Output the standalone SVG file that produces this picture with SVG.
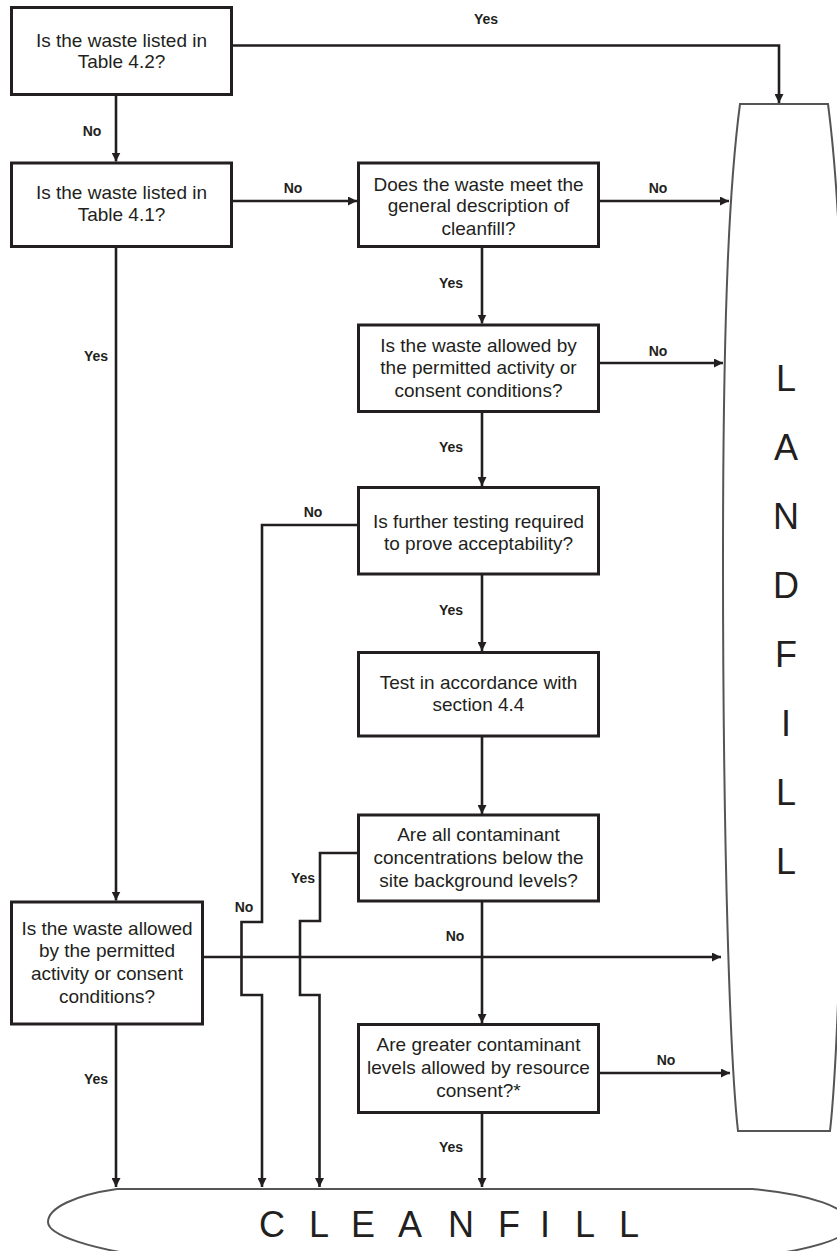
<svg xmlns="http://www.w3.org/2000/svg" width="837" height="1251" viewBox="0 0 837 1251">
<defs>
<style>
.box{fill:#fff;stroke:#231f20;stroke-width:3}
.t{font-family:"Liberation Sans",Arial,sans-serif;font-size:19px;fill:#231f20;text-anchor:middle}
.lbl{font-family:"Liberation Sans",Arial,sans-serif;font-size:14px;font-weight:bold;fill:#231f20;text-anchor:middle}
.big{font-family:"Liberation Sans",Arial,sans-serif;font-size:36px;fill:#231f20}
.c{fill:none;stroke:#231f20;stroke-width:2.6;marker-end:url(#ah)}
.term{fill:#fff;stroke:#555;stroke-width:2}
</style>
<marker id="ah" markerUnits="userSpaceOnUse" markerWidth="9" markerHeight="9" refX="9" refY="4.5" orient="auto">
<path d="M0,0 L9,4.5 L0,9 z" fill="#231f20"/>
</marker>
</defs>
<rect width="837" height="1251" fill="#fff"/>

<g id="landfill">
<path class="term" d="M740,104 L828,104 C838,180 845,300 845,560 C845,850 838,1060 830,1131 L738,1131 C730,1060 723,850 723,560 C723,300 730,180 740,104 Z"/>
<text class="big" text-anchor="middle"><tspan x="786" y="391">L</tspan><tspan x="786" y="460">A</tspan><tspan x="786" y="529">N</tspan><tspan x="786" y="598">D</tspan><tspan x="786" y="667">F</tspan><tspan x="786" y="736">I</tspan><tspan x="786" y="805">L</tspan><tspan x="786" y="874">L</tspan></text>
</g>

<g id="cleanfill">
<path class="term" d="M117,1189 L752,1189 C810,1194 850,1208 850,1224 C850,1240 805,1250 760,1256 C650,1272 250,1272 144,1256 C95,1249 48,1236 48,1222 C48,1208 75,1195 117,1189 Z"/>
<text class="big" x="259 309 351 398 448 498 540 575 619" y="1237">CLEANFILL</text>
</g>

<g id="connectors">
<path class="c" d="M231.5,45.5 H779 V103"/>
<path class="c" d="M116,94.5 V161.5"/>
<path class="c" d="M231.5,201 H357"/>
<path class="c" d="M598.5,201 H729"/>
<path class="c" d="M482,246.5 V323.5"/>
<path class="c" d="M598.5,363 H723"/>
<path class="c" d="M482,411.5 V486"/>
<path class="c" d="M358.5,525 H262 V922 H241.5 V995 H262 V1187"/>
<path class="c" d="M482,574 V651"/>
<path class="c" d="M482,736 V814"/>
<path class="c" d="M358.5,853 H320 V921 H300 V995 H319.5 V1187"/>
<path class="c" d="M482,901 V1023"/>
<path class="c" d="M202,957 H721"/>
<path class="c" d="M598.5,1073 H730"/>
<path class="c" d="M482,1112 V1187"/>
<path class="c" d="M116,246.5 V900.5"/>
<path class="c" d="M116,1024 V1187"/>
</g>

<g id="labels">
<text class="lbl" x="486" y="24">Yes</text>
<text class="lbl" x="92" y="136">No</text>
<text class="lbl" x="293" y="193">No</text>
<text class="lbl" x="658" y="193">No</text>
<text class="lbl" x="451" y="288">Yes</text>
<text class="lbl" x="658" y="356">No</text>
<text class="lbl" x="96" y="361">Yes</text>
<text class="lbl" x="451" y="452">Yes</text>
<text class="lbl" x="313" y="517">No</text>
<text class="lbl" x="451" y="615">Yes</text>
<text class="lbl" x="303" y="883">Yes</text>
<text class="lbl" x="244" y="912">No</text>
<text class="lbl" x="455" y="941">No</text>
<text class="lbl" x="666" y="1065">No</text>
<text class="lbl" x="96" y="1084">Yes</text>
<text class="lbl" x="451" y="1152">Yes</text>
</g>

<g id="n1">
<rect class="box" x="11.5" y="7.5" width="220" height="87"/>
<text class="t"><tspan x="121.5" y="47">Is the waste listed in</tspan><tspan x="121.5" y="68">Table 4.2?</tspan></text>
</g>
<g id="n2">
<rect class="box" x="11.5" y="163" width="220" height="83.5"/>
<text class="t"><tspan x="121.5" y="199">Is the waste listed in</tspan><tspan x="121.5" y="221">Table 4.1?</tspan></text>
</g>
<g id="n3">
<rect class="box" x="358.5" y="163" width="240" height="83.5"/>
<text class="t"><tspan x="478.5" y="191">Does the waste meet the</tspan><tspan x="478.5" y="212">general description of</tspan><tspan x="478.5" y="235">cleanfill?</tspan></text>
</g>
<g id="n4">
<rect class="box" x="358.5" y="325" width="240" height="86.5"/>
<text class="t"><tspan x="478.5" y="352">Is the waste allowed by</tspan><tspan x="478.5" y="374">the permitted activity or</tspan><tspan x="478.5" y="397">consent conditions?</tspan></text>
</g>
<g id="n5">
<rect class="box" x="358.5" y="487.5" width="240" height="86.5"/>
<text class="t"><tspan x="478.5" y="528">Is further testing required</tspan><tspan x="478.5" y="550">to prove acceptability?</tspan></text>
</g>
<g id="n6">
<rect class="box" x="358.5" y="652.5" width="240" height="83.5"/>
<text class="t"><tspan x="478.5" y="689">Test in accordance with</tspan><tspan x="478.5" y="711">section 4.4</tspan></text>
</g>
<g id="n7">
<rect class="box" x="358.5" y="815" width="240" height="86"/>
<text class="t"><tspan x="478.5" y="841">Are all contaminant</tspan><tspan x="478.5" y="864">concentrations below the</tspan><tspan x="478.5" y="887">site background levels?</tspan></text>
</g>
<g id="n8">
<rect class="box" x="358.5" y="1024.5" width="240" height="88"/>
<text class="t"><tspan x="478.5" y="1051">Are greater contaminant</tspan><tspan x="478.5" y="1074">levels allowed by resource</tspan><tspan x="478.5" y="1097">consent?*</tspan></text>
</g>
<g id="n9">
<rect class="box" x="11.5" y="902" width="191" height="122"/>
<text class="t"><tspan x="107" y="935">Is the waste allowed</tspan><tspan x="107" y="957">by the permitted</tspan><tspan x="107" y="980">activity or consent</tspan><tspan x="107" y="1003">conditions?</tspan></text>
</g>
</svg>
